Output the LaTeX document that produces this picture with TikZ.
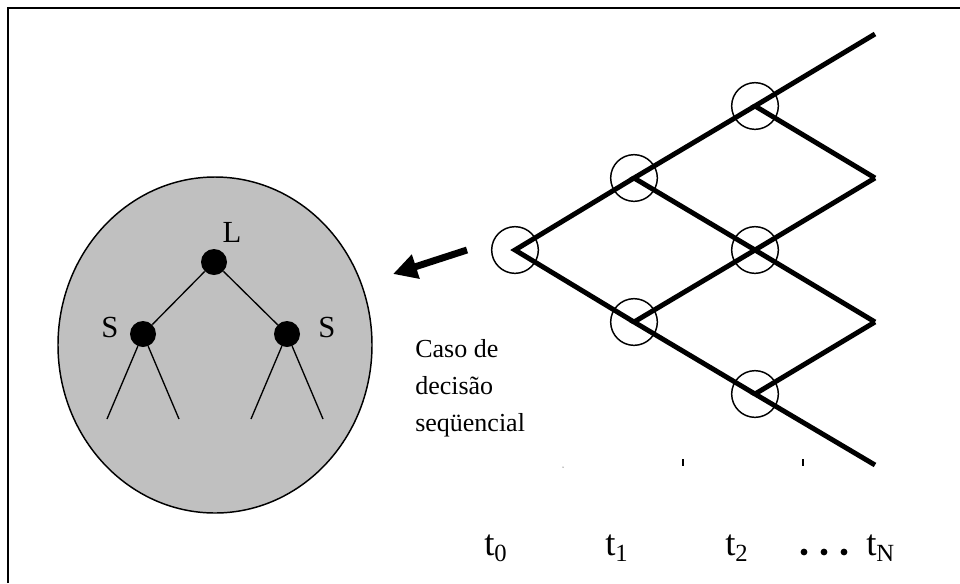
\documentclass[tikz,border=0pt]{standalone}
\usepackage{fontspec}
\setmainfont{Liberation Serif}
\usetikzlibrary{arrows.meta}
\tikzset{
  tnode/.style={circle,draw,line width=1.1pt,minimum size=35pt,inner sep=0pt},
  branch/.style={line width=3.7pt,line cap=butt,line join=miter},
  dotnode/.style={circle,fill=black,minimum size=19.5pt,inner sep=0pt},
  thin/.style={line width=1pt},
  lab/.style={font=\fontsize{19.5}{22}\selectfont,anchor=base west,inner sep=0pt},
  slab/.style={font=\fontsize{23}{26}\selectfont,inner sep=0pt},
  tlab/.style={anchor=base west,inner sep=0pt}
}
\newcommand{\tsub}[1]{{\fontsize{27.5}{30}\selectfont t}\raisebox{-5pt}{\fontsize{18.5}{21}\selectfont #1}}
\begin{document}
\begin{tikzpicture}[x=0.75pt,y=-0.75pt]
\useasboundingbox (0,0) rectangle (960,583);
% frame (top and left only)
\draw[line width=1.2pt] (8,583) -- (8,8) -- (960,8);
% ellipse
\draw[fill={rgb,255:red,192;green,192;blue,192},line width=1.1pt] (215,345) ellipse [x radius=157,y radius=168];
% small tree
\node[dotnode] (L) at (214,262) {};
\node[dotnode] (SL) at (143,334) {};
\node[dotnode] (SR) at (287,334) {};
\node[slab] (Ll) at (232,232) {L};
\node[slab] (SLl) at (110,327) {S};
\node[slab] (SRl) at (327,327) {S};
\coordinate (a1) at (107,419);
\coordinate (a2) at (179,419);
\coordinate (a3) at (251,419);
\coordinate (a4) at (323,419);
\draw[thin] (L) -- (SL);
\draw[thin] (L) -- (SR);
\draw[thin] (SL) -- (a1);
\draw[thin] (SL) -- (a2);
\draw[thin] (SR) -- (a3);
\draw[thin] (SR) -- (a4);
% arrow
\coordinate (ar1) at (467,250);
\coordinate (ar2) at (393,274);
\draw[line width=5.2pt,-{Triangle[length=18pt,width=18pt]}] (ar1) -- (ar2);
% text
\node[lab] (c1) at (415,357) {Caso de};
\node[lab] (c2) at (415,394) {decisão};
\node[lab] (c3) at (415,431) {seqüencial};
% lattice nodes
\node[tnode] (n0) at (515,250) {};
\node[tnode] (n1u) at (634,178) {};
\node[tnode] (n1d) at (634,322) {};
\node[tnode] (n2a) at (755,106) {};
\node[tnode] (n2b) at (755,250) {};
\node[tnode] (n2c) at (755,394) {};
\coordinate (e1) at (875,34);
\coordinate (e2) at (875,178);
\coordinate (e3) at (875,322);
\coordinate (e4) at (875,465);
\draw[branch] (n1u.center) -- (n0.center) -- (n1d.center);
\draw[branch] (n2a.center) -- (n1u.center) -- (n2b.center);
\draw[branch] (n2b.center) -- (n1d.center) -- (n2c.center);
\draw[branch] (e1) -- (n2a.center) -- (e2);
\draw[branch] (e2) -- (n2b.center) -- (e3);
\draw[branch] (e3) -- (n2c.center) -- (e4);
% tiny ticks
\coordinate (k1a) at (683,459); \coordinate (k1b) at (683,466);
\coordinate (k2a) at (803,459); \coordinate (k2b) at (803,466);
\draw[line width=0.8pt] (k1a) -- (k1b);
\draw[line width=0.8pt] (k2a) -- (k2b);
\fill (563,467) circle [radius=0.5];
% time labels
\node[tlab] (t0) at (484,555) {\tsub{0}};
\node[tlab] (t1) at (605,555) {\tsub{1}};
\node[tlab] (t2) at (725,555) {\tsub{2}};
\foreach \xx in {804,824,844} \fill (\xx,552) circle [radius=3.4];
\node[tlab] (tN) at (866,555) {\tsub{N}};
\end{tikzpicture}
\end{document}
